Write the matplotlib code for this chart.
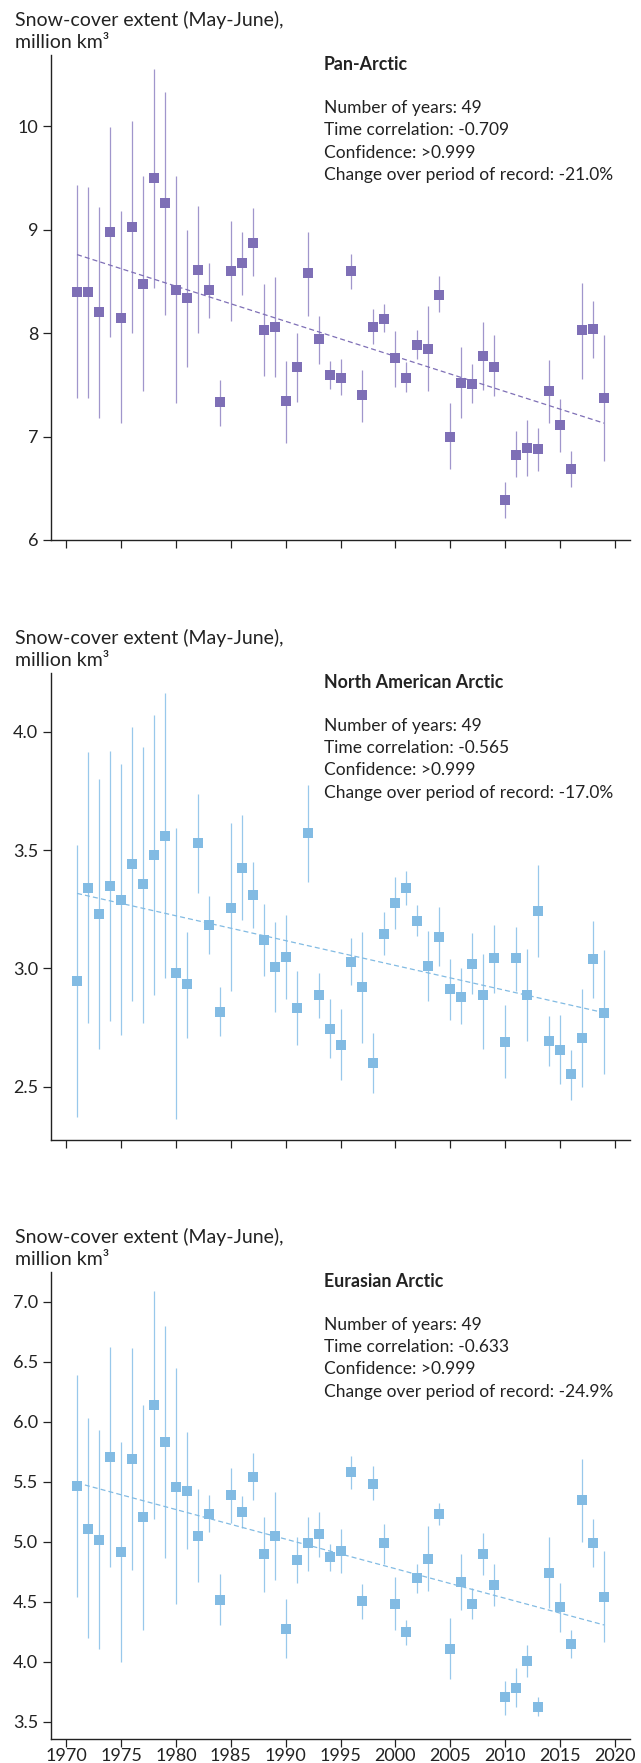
import matplotlib
matplotlib.use("Agg")
import matplotlib.pyplot as plt
import numpy as np

plt.rcParams['font.family'] = ['Lato', 'DejaVu Sans']

years = np.arange(1971, 2020)

# Pan-Arctic
pan_val = [8.40, 8.40, 8.20, 8.98, 8.15, 9.03, 8.48, 9.50, 9.26, 8.42,
           8.34, 8.61, 8.42, 7.33, 8.60, 8.68, 8.87, 8.03, 8.06, 7.34,
           7.67, 8.58, 7.94, 7.60, 7.57, 8.60, 7.40, 8.06, 8.14, 7.76,
           7.57, 7.89, 7.85, 8.37, 7.00, 7.52, 7.51, 7.78, 7.67, 6.39,
           6.82, 6.89, 6.88, 7.44, 7.11, 6.69, 8.03, 8.04, 7.37]
pan_hi = [9.43, 9.41, 9.22, 9.99, 9.18, 10.05, 9.52, 10.55, 10.33, 9.52,
          9.00, 9.23, 8.68, 7.55, 9.08, 8.98, 9.21, 8.48, 8.54, 7.73,
          8.00, 8.98, 8.17, 7.73, 7.75, 8.77, 7.64, 8.23, 8.28, 8.02,
          7.72, 8.03, 8.26, 8.55, 7.32, 7.87, 7.70, 8.11, 7.98, 6.56,
          7.05, 7.16, 7.08, 7.74, 7.36, 6.86, 8.49, 8.31, 7.98]
pan_lo = [7.37, 7.37, 7.18, 7.96, 7.13, 8.00, 7.44, 8.44, 8.18, 7.32,
          7.67, 8.00, 8.15, 7.10, 8.12, 8.37, 8.55, 7.59, 7.58, 6.94,
          7.33, 8.17, 7.70, 7.46, 7.40, 8.43, 7.14, 7.90, 8.01, 7.48,
          7.43, 7.75, 7.44, 8.20, 6.69, 7.18, 7.32, 7.45, 7.39, 6.21,
          6.61, 6.62, 6.67, 7.13, 6.85, 6.51, 7.56, 7.76, 6.76]
pan_trend = [8.76, 7.13]

# North American Arctic
na_val = [2.948, 3.341, 3.230, 3.350, 3.289, 3.442, 3.355, 3.480, 3.559, 2.981,
          2.934, 3.531, 3.183, 2.816, 3.255, 3.425, 3.311, 3.122, 3.006, 3.050,
          2.834, 3.573, 2.889, 2.745, 2.678, 3.028, 2.922, 2.600, 3.145, 3.278,
          3.341, 3.202, 3.011, 3.134, 2.914, 2.880, 3.020, 2.886, 3.042, 2.691,
          3.042, 2.889, 3.241, 2.695, 2.656, 2.552, 2.708, 3.038, 2.813]
na_hi = [3.523, 3.914, 3.800, 3.919, 3.864, 4.019, 3.934, 4.070, 4.164, 3.594,
         3.156, 3.739, 3.308, 2.922, 3.613, 3.648, 3.448, 3.273, 3.195, 3.227,
         2.989, 3.777, 2.981, 2.870, 2.828, 3.128, 3.156, 2.727, 3.238, 3.386,
         3.411, 3.269, 3.159, 3.258, 3.039, 3.000, 3.148, 3.063, 3.183, 2.844,
         3.177, 3.081, 3.438, 2.797, 2.802, 2.656, 2.911, 3.200, 3.078]
na_lo = [2.372, 2.770, 2.661, 2.778, 2.719, 2.864, 2.769, 2.888, 2.958, 2.364,
         2.708, 3.320, 3.063, 2.714, 2.903, 3.203, 3.172, 2.969, 2.817, 2.870,
         2.677, 3.367, 2.792, 2.622, 2.528, 2.930, 2.684, 2.472, 3.058, 3.167,
         3.269, 3.136, 2.863, 3.011, 2.784, 2.766, 2.891, 2.661, 2.898, 2.536,
         2.906, 2.695, 3.047, 2.586, 2.513, 2.445, 2.500, 2.875, 2.552]
na_trend = [3.317, 2.813]

# Eurasian Arctic
eu_val = [5.462, 5.109, 5.016, 5.707, 4.917, 5.692, 5.202, 6.135, 5.834, 5.459,
          5.425, 5.050, 5.233, 4.517, 5.385, 5.245, 5.543, 4.895, 5.044, 4.275,
          4.846, 4.988, 5.060, 4.870, 4.920, 5.577, 4.502, 5.484, 4.985, 4.483,
          4.244, 4.694, 4.858, 5.233, 4.108, 4.660, 4.483, 4.901, 4.641, 3.702,
          3.782, 4.009, 3.624, 4.743, 4.452, 4.151, 5.345, 4.991, 4.542]
eu_hi = [6.389, 6.027, 5.934, 6.622, 5.831, 6.616, 6.135, 7.087, 6.799, 6.445,
         5.915, 5.438, 5.388, 4.731, 5.614, 5.382, 5.738, 5.205, 5.413, 4.523,
         5.041, 5.202, 5.249, 4.979, 5.103, 5.717, 4.647, 5.630, 5.149, 4.706,
         4.350, 4.818, 5.128, 5.326, 4.365, 4.895, 4.613, 5.072, 4.815, 3.841,
         3.950, 4.136, 3.708, 5.041, 4.653, 4.266, 5.692, 5.190, 4.923]
eu_lo = [4.539, 4.195, 4.105, 4.793, 3.996, 4.768, 4.266, 5.190, 4.864, 4.477,
         4.942, 4.663, 5.078, 4.306, 5.159, 5.118, 5.351, 4.582, 4.678, 4.027,
         4.653, 4.756, 4.870, 4.756, 4.737, 5.438, 4.353, 5.345, 4.815, 4.266,
         4.136, 4.570, 4.585, 5.143, 3.854, 4.427, 4.353, 4.725, 4.467, 3.553,
         3.621, 3.872, 3.544, 4.446, 4.250, 4.027, 5.001, 4.793, 4.167]
eu_trend = [5.490, 4.306]

titles = ["Pan-Arctic", "North American Arctic", "Eurasian Arctic"]
stats = [["Number of years: 49", "Time correlation: -0.709", "Confidence: >0.999",
          "Change over period of record: -21.0%"],
         ["Number of years: 49", "Time correlation: -0.565", "Confidence: >0.999",
          "Change over period of record: -17.0%"],
         ["Number of years: 49", "Time correlation: -0.633", "Confidence: >0.999",
          "Change over period of record: -24.9%"]]
ylabel = "Snow-cover extent (May-June),\nmillion km³"

W, H = 641, 1763
fig = plt.figure(figsize=(W / 100, H / 100), dpi=100)

# pixel boxes: (top, bottom)
boxes = [(55, 540), (672.6, 1140), (1271.7, 1738.7)]
left, right = 50.7, 630
ylims = [(6, 10.69), (2.275, 4.25), (3.358, 7.25)]
yticks = [[6, 7, 8, 9, 10], [2.5, 3.0, 3.5, 4.0], [3.5, 4.0, 4.5, 5.0, 5.5, 6.0, 6.5, 7.0]]
yfmt = ["%d", "%.1f", "%.1f"]
marker_col = ["#7e6fb6", "#82bbe3", "#82bbe3"]
bar_col = ["#a096cc", "#98c8eb", "#98c8eb"]
vals = [pan_val, na_val, eu_val]
his = [pan_hi, na_hi, eu_hi]
los = [pan_lo, na_lo, eu_lo]
trends = [pan_trend, na_trend, eu_trend]

for i in range(3):
    top, bot = boxes[i]
    ax = fig.add_axes([left / W, 1 - bot / H, (right - left) / W, (bot - top) / H])
    v = np.array(vals[i])
    yerr = [v - np.array(los[i]), np.array(his[i]) - v]
    ax.errorbar(years, v, yerr=yerr, fmt='none', ecolor=bar_col[i], elinewidth=0.9, capsize=0)
    ax.plot(years, v, 's', color=marker_col[i], markersize=6.6, markeredgewidth=0)
    ax.plot([years[0], years[-1]], trends[i], '--', color=marker_col[i], lw=0.9,
            dashes=(4, 2.5))
    ax.set_xlim(1968.6, 2021.37)
    ax.set_ylim(*ylims[i])
    ax.set_xticks(np.arange(1970, 2021, 5))
    ax.set_yticks(yticks[i])
    ax.set_yticklabels([yfmt[i] % t for t in yticks[i]])
    if i < 2:
        ax.set_xticklabels([])
    for s in ['top', 'right']:
        ax.spines[s].set_visible(False)
    for s in ['left', 'bottom']:
        ax.spines[s].set_linewidth(1.0)
        ax.spines[s].set_color('#222222')
    ax.tick_params(axis='y', length=5.5, width=0.9, pad=3.5, labelsize=13, colors='#222222')
    ax.tick_params(axis='x', length=5.5, width=0.9, pad=1.5, labelsize=13, colors='#222222')

    # labels in pixel positions
    fig.text(15 / W, 1 - (top - 35) / H, ylabel.split("\n")[0], fontsize=14,
             va='center', ha='left', color='#222222')
    fig.text(15 / W, 1 - (top - 12.5) / H, ylabel.split("\n")[1], fontsize=14,
             va='center', ha='left', color='#222222')
    tx = 324 / W
    fig.text(tx, 1 - (top + 9.5) / H, titles[i], fontsize=12.8, fontweight='bold',
             va='center', ha='left', color='#222222')
    for k, line in enumerate(stats[i]):
        fig.text(tx, 1 - (top + 53 + 22.4 * k) / H, line, fontsize=12.5,
                 va='center', ha='left', color='#222222')

fig.savefig("out.png", dpi=100)
